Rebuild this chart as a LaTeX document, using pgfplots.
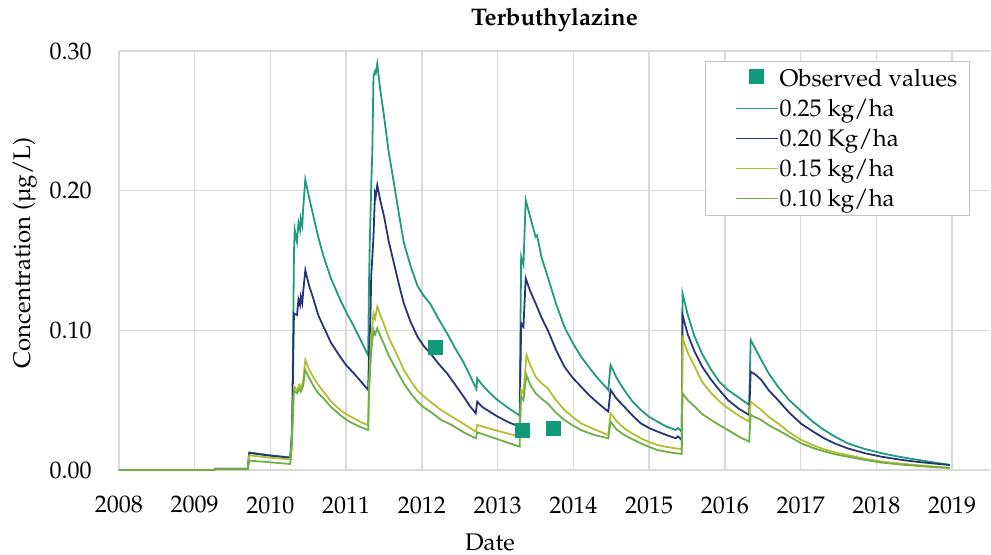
\documentclass[border=0pt,12pt]{standalone}
\usepackage[T1]{fontenc}
\usepackage{mathpazo}
\usepackage{pgfplots}
\pgfplotsset{compat=1.18}
\definecolor{cA}{HTML}{1F9B7D}
\definecolor{cB}{HTML}{263578}
\definecolor{cC}{HTML}{B4BE32}
\definecolor{cD}{HTML}{6EAF46}
\definecolor{cObs}{HTML}{119A77}
\pgfplotsset{obs legend/.style={legend image code/.code={\path[draw=none] (-9pt,0) rectangle (21pt,2pt); \fill[cObs] (7.3pt,-2.2pt) rectangle (13.7pt,4.2pt);}}}
\begin{document}
\begin{tikzpicture}
\begin{axis}[
  at={(0,0)}, anchor=south west,
  scale only axis, width=435.5pt, height=209.5pt,
  xmin=2008, xmax=2019.5, ymin=0, ymax=0.3,
  xtick={2008,2009,...,2019},
  ytick={0,0.1,0.2,0.3},
  yticklabels={0.00,0.10,0.20,0.30},
  xticklabel style={/pgf/number format/1000 sep={}, anchor=center, yshift=-17.5pt},
  yticklabel style={anchor=east, xshift=-9.5pt},
  major tick length=0pt,
  axis line style={draw=none},
  grid=major,
  major grid style={draw=gray!30, line width=0.75pt},
  clip=false,
  title={Terbuthylazine},
  every axis title/.style={at={(axis description cs:0.5,1.074)}, anchor=center, font=\bfseries},
  xlabel={Date},
  every axis x label/.style={at={(axis description cs:0.426,-0.174)}, anchor=center},
  ylabel={Concentration (\textmu g/L)},
  every axis y label/.style={at={(axis description cs:-0.108,0.518)}, rotate=90, anchor=center},
  legend image code/.code={\path[draw=none] (-9pt,0) rectangle (21pt,2pt); \draw[line width=0.9pt,#1] (0pt,0) -- (21pt,0);},
  legend style={at={(axis description cs:0.6728,0.9762)}, anchor=north west,
    draw=gray!45, line width=0.6pt, fill=white, inner xsep=6pt, inner ysep=1.5pt,
    row sep=1pt, column sep=0.5pt,
    cells={anchor=west},
    nodes={inner xsep=0pt, inner ysep=0pt, text height=11pt, text depth=3pt}},
  every axis plot/.append style={line width=0.9pt},
]
\addlegendimage{obs legend}
\addlegendentry{Observed values}

\addplot[cA] coordinates {
(2008.00,0) (2009.25,0) (2009.27,0.0008) (2009.70,0.0008) (2009.72,0.0125) (2010.00,0.0105) (2010.26,0.009)
(2010.28,0.025) (2010.29,0.048) (2010.30,0.10) (2010.31,0.155) (2010.32,0.172) (2010.35,0.1635) (2010.37,0.177)
(2010.39,0.172) (2010.40,0.180) (2010.42,0.175) (2010.43,0.186) (2010.46,0.208) (2010.51,0.195) (2010.57,0.181)
(2010.63,0.167) (2010.70,0.153) (2010.80,0.137) (2010.92,0.122) (2011.00,0.113) (2011.10,0.103) (2011.20,0.092) (2011.29,0.082)
(2011.30,0.13) (2011.31,0.16) (2011.33,0.203) (2011.345,0.229) (2011.36,0.282) (2011.38,0.2853) (2011.39,0.284)
(2011.41,0.2908) (2011.45,0.272) (2011.50,0.253) (2011.56,0.228) (2011.63,0.2053) (2011.70,0.182) (2011.76,0.163)
(2011.85,0.146) (2011.94,0.132) (2012.02,0.125) (2012.11,0.119) (2012.22,0.108) (2012.33,0.098)
(2012.44,0.087) (2012.55,0.077) (2012.63,0.068) (2012.72,0.058) (2012.73,0.0657) (2012.78,0.062) (2012.88,0.056) (2013.00,0.050) (2013.15,0.044) (2013.29,0.039)
(2013.30,0.100) (2013.31,0.1528) (2013.33,0.149) (2013.34,0.147) (2013.37,0.1933) (2013.43,0.181) (2013.50,0.167) (2013.52,0.168)
(2013.58,0.152) (2013.66,0.1384) (2013.77,0.119) (2013.88,0.1026) (2013.99,0.091) (2014.10,0.0811) (2014.20,0.074) (2014.30,0.067)
(2014.46,0.0573) (2014.49,0.0752) (2014.57,0.066) (2014.67,0.0573) (2014.78,0.049)
(2014.89,0.043) (2015.00,0.038) (2015.11,0.0346) (2015.23,0.031) (2015.35,0.0287) (2015.38,0.030) (2015.43,0.0275)
(2015.44,0.1265) (2015.51,0.111) (2015.60,0.0955) (2015.70,0.083)
(2015.82,0.0716) (2015.93,0.063) (2016.04,0.0573) (2016.18,0.052) (2016.32,0.0466)
(2016.34,0.0931) (2016.41,0.086) (2016.48,0.0788) (2016.58,0.069) (2016.70,0.0597) (2016.85,0.050) (2017.01,0.042)
(2017.15,0.035) (2017.30,0.029) (2017.45,0.024) (2017.62,0.0191) (2017.85,0.015) (2018.07,0.012) (2018.30,0.0095)
(2018.51,0.0076) (2018.75,0.0055) (2018.97,0.0036)
};
\addlegendentry{0.25 kg/ha}

\addplot[cB] coordinates {
(2008.00,0) (2009.25,0) (2009.27,0.0008) (2009.70,0.0008) (2009.72,0.0122) (2010.00,0.0102) (2010.26,0.0088)
(2010.28,0.02) (2010.29,0.04) (2010.30,0.08) (2010.31,0.112) (2010.35,0.111) (2010.37,0.122) (2010.39,0.118)
(2010.40,0.124) (2010.42,0.1194) (2010.43,0.1266) (2010.46,0.143) (2010.51,0.132) (2010.57,0.122) (2010.63,0.111)
(2010.70,0.1026) (2010.80,0.091) (2010.92,0.0811) (2011.00,0.075) (2011.10,0.0693) (2011.20,0.063) (2011.29,0.0573)
(2011.30,0.08) (2011.32,0.11) (2011.33,0.1385) (2011.36,0.167) (2011.38,0.198) (2011.39,0.196) (2011.41,0.204)
(2011.45,0.193) (2011.50,0.1815) (2011.56,0.164) (2011.63,0.148) (2011.70,0.132) (2011.76,0.1194) (2011.85,0.106)
(2011.94,0.0955) (2012.02,0.089) (2012.11,0.0836) (2012.22,0.076) (2012.33,0.0693) (2012.44,0.061) (2012.55,0.0525)
(2012.63,0.046) (2012.71,0.0406) (2012.73,0.0489) (2012.80,0.045) (2013.00,0.0382) (2013.15,0.034) (2013.29,0.031)
(2013.30,0.07) (2013.31,0.105) (2013.34,0.1026) (2013.37,0.1372) (2013.43,0.128) (2013.50,0.1194) (2013.58,0.109)
(2013.66,0.1003) (2013.77,0.086) (2013.88,0.074) (2013.99,0.066) (2014.10,0.0597) (2014.20,0.054) (2014.30,0.049)
(2014.46,0.0418) (2014.49,0.0573) (2014.57,0.051) (2014.67,0.0454) (2014.78,0.039) (2014.89,0.0334) (2015.00,0.030)
(2015.11,0.0275) (2015.23,0.025) (2015.35,0.0227) (2015.38,0.024) (2015.43,0.0215)
(2015.44,0.111) (2015.51,0.097) (2015.60,0.0847) (2015.70,0.074) (2015.82,0.0645) (2015.93,0.057) (2016.04,0.0501)
(2016.18,0.044) (2016.32,0.0394)
(2016.34,0.0704) (2016.41,0.068) (2016.48,0.0645) (2016.58,0.057) (2016.70,0.0501) (2016.85,0.041) (2017.01,0.033)
(2017.15,0.028) (2017.30,0.023) (2017.45,0.019) (2017.62,0.0155) (2017.85,0.012) (2018.07,0.0095) (2018.30,0.0075)
(2018.51,0.006) (2018.75,0.0047) (2018.97,0.0036)
};
\addlegendentry{0.20 Kg/ha}

\addplot[cC] coordinates {
(2008.00,0) (2009.25,0) (2009.27,0.0006) (2009.70,0.0006) (2009.72,0.0105) (2010.00,0.0088) (2010.26,0.0076)
(2010.28,0.018) (2010.29,0.035) (2010.31,0.0597) (2010.35,0.057) (2010.38,0.061) (2010.40,0.059) (2010.43,0.063)
(2010.46,0.0788) (2010.51,0.072) (2010.57,0.066) (2010.63,0.061) (2010.70,0.0561) (2010.80,0.049) (2010.92,0.043)
(2011.00,0.040) (2011.10,0.037) (2011.20,0.034) (2011.29,0.0322)
(2011.30,0.06) (2011.33,0.095) (2011.36,0.112) (2011.38,0.108) (2011.41,0.117) (2011.45,0.111) (2011.50,0.104)
(2011.56,0.095) (2011.63,0.087) (2011.70,0.079) (2011.76,0.0716) (2011.85,0.064) (2011.94,0.057) (2012.02,0.053)
(2012.11,0.0489) (2012.25,0.043) (2012.40,0.038) (2012.55,0.033) (2012.71,0.0275) (2012.73,0.0322) (2013.00,0.028) (2013.29,0.0239)
(2013.30,0.045) (2013.31,0.0573) (2013.34,0.055) (2013.38,0.0824) (2013.43,0.075) (2013.50,0.0668) (2013.58,0.062)
(2013.66,0.0585) (2013.77,0.050) (2013.88,0.043) (2013.99,0.038) (2014.10,0.0334) (2014.28,0.029) (2014.46,0.0251)
(2014.49,0.0406) (2014.57,0.035) (2014.67,0.0298) (2014.78,0.026) (2014.89,0.0227) (2015.00,0.020) (2015.11,0.0179)
(2015.23,0.0165) (2015.35,0.0155) (2015.43,0.015)
(2015.44,0.0943) (2015.51,0.084) (2015.60,0.074) (2015.70,0.063) (2015.82,0.0549) (2015.93,0.049) (2016.04,0.0442)
(2016.18,0.039) (2016.32,0.0346)
(2016.34,0.0489) (2016.41,0.046) (2016.48,0.043) (2016.58,0.038) (2016.70,0.0334) (2016.85,0.027) (2017.01,0.0215)
(2017.15,0.018) (2017.30,0.015) (2017.45,0.0127) (2017.62,0.0107) (2017.85,0.008) (2018.07,0.006) (2018.30,0.0047)
(2018.51,0.0036) (2018.75,0.0025) (2018.97,0.0016)
};
\addlegendentry{0.15 kg/ha}

\addplot[cD] coordinates {
(2008.00,0) (2009.25,0) (2009.27,0.0005) (2009.70,0.0005) (2009.72,0.0067) (2010.00,0.0055) (2010.26,0.0043)
(2010.28,0.015) (2010.29,0.03) (2010.31,0.057) (2010.35,0.0549) (2010.38,0.058) (2010.40,0.056) (2010.43,0.06)
(2010.46,0.0716) (2010.51,0.066) (2010.57,0.060) (2010.63,0.055) (2010.70,0.0513) (2010.80,0.045) (2010.92,0.0394)
(2011.00,0.036) (2011.10,0.033) (2011.20,0.0305) (2011.29,0.0286)
(2011.30,0.055) (2011.33,0.085) (2011.36,0.1003) (2011.38,0.097) (2011.41,0.1015) (2011.45,0.096) (2011.50,0.09)
(2011.56,0.082) (2011.63,0.075) (2011.70,0.068) (2011.76,0.062) (2011.85,0.055) (2011.94,0.049) (2012.02,0.045)
(2012.11,0.0418) (2012.25,0.036) (2012.40,0.032) (2012.55,0.027) (2012.71,0.0227) (2012.73,0.027) (2013.00,0.022) (2013.29,0.0167)
(2013.30,0.04) (2013.31,0.0525) (2013.34,0.05) (2013.38,0.068) (2013.43,0.061) (2013.50,0.0549) (2013.58,0.051)
(2013.66,0.0477) (2013.77,0.041) (2013.88,0.0358) (2013.99,0.032) (2014.10,0.0286) (2014.28,0.025) (2014.46,0.0227)
(2014.49,0.0346) (2014.57,0.029) (2014.67,0.0251) (2014.78,0.022) (2014.89,0.0191) (2015.00,0.0165) (2015.11,0.0143)
(2015.23,0.013) (2015.35,0.012) (2015.43,0.0115)
(2015.44,0.0549) (2015.51,0.050) (2015.60,0.0454) (2015.70,0.040) (2015.82,0.0358) (2015.93,0.032) (2016.04,0.0286)
(2016.18,0.024) (2016.32,0.0203)
(2016.34,0.0394) (2016.41,0.0375) (2016.48,0.0358) (2016.58,0.032) (2016.70,0.0286) (2016.85,0.024) (2017.01,0.0191)
(2017.15,0.016) (2017.30,0.0135) (2017.45,0.0113) (2017.62,0.0095) (2017.85,0.0072) (2018.07,0.0053) (2018.30,0.004)
(2018.51,0.0031) (2018.75,0.002) (2018.97,0.0014)
};
\addlegendentry{0.10 kg/ha}

\addplot[forget plot, only marks, mark=square*, mark size=3.3pt, color=cObs] coordinates {
(2012.18,0.088) (2013.33,0.028) (2013.74,0.030)
};
\end{axis}
\pgfresetboundingbox
\path (-59.5pt,-42.5pt) rectangle (436pt,235pt);
\end{tikzpicture}
\end{document}
